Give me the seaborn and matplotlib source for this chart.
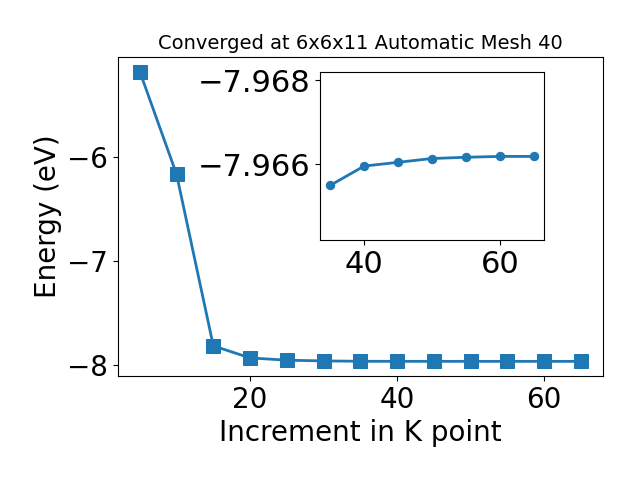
import numpy as np
import pandas as pd
import matplotlib
matplotlib.use("Agg")
import matplotlib.pyplot as plt
import seaborn as sns

# k-point convergence data
kpoints = [5, 10, 15, 20, 25, 30, 35, 40, 45, 50, 55, 60, 65]
energy = [-5.173, -6.163, -7.817, -7.933, -7.955, -7.962, -7.9655,
          -7.96596, -7.96605, -7.96614, -7.96617, -7.96619, -7.96619]

# zoomed region for the inset
inset_k = [35, 40, 45, 50, 55, 60, 65]
inset_e = [-7.9655, -7.96596, -7.96605, -7.96614, -7.96617, -7.96619, -7.96619]

df = pd.DataFrame({"k": kpoints, "E": energy})
df_in = pd.DataFrame({"k": inset_k, "E": inset_e})

sns.set_style("ticks", {"axes.edgecolor": "black", "text.color": "black",
                        "axes.labelcolor": "black", "xtick.color": "black",
                        "ytick.color": "black"})
plt.rcParams["font.family"] = ["DejaVu Sans"]

fig, ax = plt.subplots(figsize=(6.4, 4.8), dpi=100)
sns.lineplot(data=df, x="k", y="E", marker="s", markersize=10, linewidth=2,
             color="#1f77b4", markeredgecolor="#1f77b4", ax=ax)
ax.set_title("Converged at 6x6x11 Automatic Mesh 40", fontsize=14)
ax.set_xlabel("Increment in K point", fontsize=20)
ax.set_ylabel("Energy (eV)", fontsize=20)
ax.tick_params(labelsize=20)
ax.set_yticks([-8, -7, -6])
ax.set_xticks([20, 40, 60])
fig.subplots_adjust(left=0.184, right=0.942, top=0.881, bottom=0.217)

# inset
axin = fig.add_axes([0.5, 0.5, 0.35, 0.35])
sns.lineplot(data=df_in, x="k", y="E", marker="o", markersize=6, linewidth=2,
             color="#1f77b4", markeredgecolor="#1f77b4", ax=axin)
axin.set_ylim(-7.9642, -7.9682)
axin.set_yticks([-7.966, -7.968])
axin.set_xticks([40, 60])
axin.set_xlabel("")
axin.set_ylabel("")
axin.tick_params(labelsize=22)

fig.savefig("out.png", dpi=100)
